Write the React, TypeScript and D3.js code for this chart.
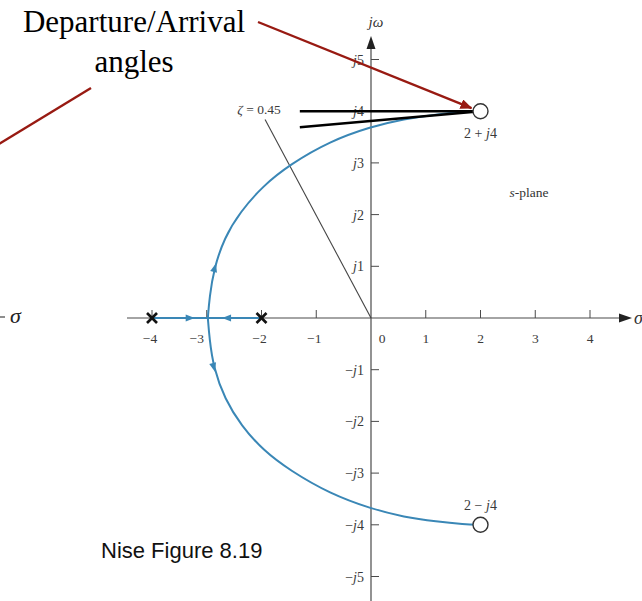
import React from "react";
import * as d3 from "d3";

// Axis ticks (real axis in σ, imaginary axis in jω)
const X_TICKS = [-4, -3, -2, -1, 0, 1, 2, 3, 4];
const Y_TICKS = [5, 4, 3, 2, 1, -1, -2, -3, -4, -5];

// Open-loop poles and zeros
const POLES: [number, number][] = [[-4, 0], [-2, 0]];
const ZEROS = [
  { re: 2, im: 4, sign: "+", labelSide: "below" },
  { re: 2, im: -4, sign: "−", labelSide: "above" },
];

// Root-locus branches (σ, ω)
const UPPER_BRANCH: [number, number][] = [
  [-2.98, 0], [-2.95, 0.4], [-2.87, 0.95], [-2.68, 1.55], [-2.39, 2.05],
  [-1.98, 2.55], [-1.48, 2.97], [-0.75, 3.42], [0, 3.7], [0.6, 3.85],
  [1.2, 3.94], [1.7, 3.99], [2, 4],
];
const LOWER_BRANCH: [number, number][] = [
  [-2.98, 0], [-2.95, -0.4], [-2.88, -0.95], [-2.67, -1.57], [-2.37, -2.08],
  [-1.97, -2.56], [-1.48, -2.95], [-0.75, -3.4], [0, -3.69], [0.6, -3.85],
  [1.2, -3.94], [1.7, -3.99], [2, -4],
];
const REAL_SEGMENT: [number, number][] = [[-4, 0], [-2, 0]];

// Direction arrows along the locus: [from, to]
const LOCUS_ARROWS: [[number, number], [number, number]][] = [
  [[-2.9, 0.8], [-2.83, 1.06]],
  [[-2.91, -0.8], [-2.85, -1.04]],
  [[-3.45, 0], [-3.22, 0]],
  [[-2.5, 0], [-2.72, 0]],
];

// Damping-ratio line and departure/arrival tangents
const ZETA = 0.45;
const ZETA_RADIUS = 4.3;
const TANGENTS: [[number, number], [number, number]][] = [
  [[-1.3, 4], [2, 4]],
  [[-1.3, 3.69], [2, 4]],
];

const W = 642;
const H = 601;

const x = d3.scaleLinear().domain([-4, 4]).range([152, 590]);
const y = d3.scaleLinear().domain([-5, 5]).range([576.5, 59.5]);

const BLUE = "#3a87b6";
const AXIS = "#4a4a4a";
const LABEL = "#3a3a3a";
const RED = "#981a12";
const SERIF = "'Liberation Serif', 'Times New Roman', serif";
const SANS = "'Liberation Sans', Arial, sans-serif";

const locusLine = d3
  .line<[number, number]>()
  .x((d) => x(d[0]))
  .y((d) => y(d[1]))
  .curve(d3.curveBasis);

function minusLabel(v: number) {
  return v < 0 ? `−${-v}` : `${v}`;
}

export default function App() {
  const x0 = x(0);
  const y0 = y(0);

  const zetaEnd: [number, number] = [
    -ZETA * ZETA_RADIUS,
    Math.sqrt(1 - ZETA * ZETA) * ZETA_RADIUS,
  ];

  const redTip: [number, number] = [x(2) - 9, y(4) - 3];

  return (
    <svg
      width={W}
      height={H}
      viewBox={`0 0 ${W} ${H}`}
      style={{ position: "absolute", left: 0, top: 0, background: "#fff" }}
    >
      <defs>
        <marker
          id="redHead"
          viewBox="0 0 12 10"
          refX="11"
          refY="5"
          markerWidth="12"
          markerHeight="10"
          markerUnits="userSpaceOnUse"
          orient="auto"
        >
          <path d="M0,0 L12,5 L0,10 Z" fill={RED} />
        </marker>
      </defs>

      {/* Real axis */}
      <line x1={127} x2={622} y1={y0} y2={y0} stroke={AXIS} strokeWidth={1.2} />
      <path d={`M632,${y0} L619,${y0 - 4.5} L619,${y0 + 4.5} Z`} fill="#222" />
      <text x={634} y={y0 + 6} fontFamily={SERIF} fontStyle="italic" fontSize={18} fill="#333">
        σ
      </text>

      {/* Imaginary axis */}
      <line x1={x0} x2={x0} y1={H} y2={47} stroke={AXIS} strokeWidth={1.2} />
      <path d={`M${x0},36 L${x0 - 4.5},49 L${x0 + 4.5},49 Z`} fill="#222" />
      <text x={x0 + 5} y={27} textAnchor="middle" fontFamily={SERIF} fontStyle="italic" fontSize={15} fill="#333">
        jω
      </text>

      {/* Real-axis ticks */}
      {X_TICKS.filter((d) => d !== 0).map((d) => (
        <line key={`xt${d}`} x1={x(d)} x2={x(d)} y1={y0 - 8} y2={y0} stroke={AXIS} strokeWidth={1} />
      ))}
      {X_TICKS.map((d) => {
        const dx = d === 0 ? 11 : d === -3 ? -10 : d < 0 ? -2 : 0;
        return (
          <text
            key={`xl${d}`}
            x={x(d) + dx}
            y={y0 + 25}
            textAnchor="middle"
            fontFamily={SERIF}
            fontSize={13.5}
            fill={LABEL}
          >
            {minusLabel(d)}
          </text>
        );
      })}

      {/* Imaginary-axis ticks */}
      {Y_TICKS.map((d) => (
        <g key={`yt${d}`}>
          <line x1={x0} x2={x0 + 8} y1={y(d)} y2={y(d)} stroke={AXIS} strokeWidth={1} />
          <text
            x={x0 - 7}
            y={y(d) + 5}
            textAnchor="end"
            fontFamily={SERIF}
            fontSize={14}
            fill={LABEL}
          >
            {d < 0 ? "−" : ""}
            <tspan fontStyle="italic">j</tspan>
            {Math.abs(d)}
          </text>
        </g>
      ))}

      {/* ζ = 0.45 line */}
      <line
        x1={x(0)}
        y1={y(0)}
        x2={x(zetaEnd[0])}
        y2={y(zetaEnd[1])}
        stroke="#444"
        strokeWidth={1.1}
      />
      <text x={x(zetaEnd[0]) - 6} y={y(zetaEnd[1]) - 5} textAnchor="middle" fontFamily={SERIF} fontSize={13.5} fill={LABEL}>
        <tspan fontStyle="italic">ζ</tspan> = 0.45
      </text>

      {/* Root locus */}
      <path d={locusLine(REAL_SEGMENT) ?? ""} fill="none" stroke={BLUE} strokeWidth={2} />
      <path d={locusLine(UPPER_BRANCH) ?? ""} fill="none" stroke={BLUE} strokeWidth={2} />
      <path d={locusLine(LOWER_BRANCH) ?? ""} fill="none" stroke={BLUE} strokeWidth={2} />
      {LOCUS_ARROWS.map(([from, to], i) => {
        const ang =
          (Math.atan2(y(to[1]) - y(from[1]), x(to[0]) - x(from[0])) * 180) / Math.PI;
        return (
          <path
            key={`ar${i}`}
            d="M0,0 L-9,-3.5 L-9,3.5 Z"
            fill={BLUE}
            transform={`translate(${x(to[0])},${y(to[1])}) rotate(${ang})`}
          />
        );
      })}

      {/* Departure/arrival tangent lines */}
      {TANGENTS.map(([from, to], i) => (
        <line
          key={`tg${i}`}
          x1={x(from[0])}
          y1={y(from[1])}
          x2={x(to[0])}
          y2={y(to[1])}
          stroke="#000"
          strokeWidth={2.6}
        />
      ))}

      {/* Poles */}
      {POLES.map(([re, im], i) => (
        <g key={`p${i}`} stroke="#111" strokeWidth={2.6}>
          <line x1={x(re) - 5} y1={y(im) - 5} x2={x(re) + 5} y2={y(im) + 5} />
          <line x1={x(re) - 5} y1={y(im) + 5} x2={x(re) + 5} y2={y(im) - 5} />
        </g>
      ))}

      {/* Zeros */}
      {ZEROS.map((z, i) => (
        <g key={`z${i}`}>
          <circle cx={x(z.re)} cy={y(z.im)} r={7.5} fill="#fff" stroke="#333" strokeWidth={1.4} />
          <text
            x={x(z.re)}
            y={z.labelSide === "below" ? y(z.im) + 27 : y(z.im) - 15}
            textAnchor="middle"
            fontFamily={SERIF}
            fontSize={14}
            fill={LABEL}
          >
            {`${z.re} ${z.sign} `}
            <tspan fontStyle="italic">j</tspan>
            {Math.abs(z.im)}
          </text>
        </g>
      ))}

      <text x={529} y={197} textAnchor="middle" fontFamily={SERIF} fontSize={13.5} fill="#333">
        <tspan fontStyle="italic">s</tspan>-plane
      </text>

      {/* Callout */}
      <text x={134} y={32} textAnchor="middle" fontFamily={SERIF} fontSize={31} fill="#000">
        Departure/Arrival
      </text>
      <text x={134} y={72} textAnchor="middle" fontFamily={SERIF} fontSize={31} fill="#000">
        angles
      </text>
      <line
        x1={258}
        y1={22}
        x2={redTip[0]}
        y2={redTip[1]}
        stroke={RED}
        strokeWidth={2.4}
        markerEnd="url(#redHead)"
      />
      <line x1={91} y1={88} x2={-6} y2={147} stroke={RED} strokeWidth={2.4} />

      {/* Partial axis label at the left edge */}
      <line x1={0} x2={5} y1={317} y2={317} stroke="#444" strokeWidth={1.2} />
      <text x={10} y={323} fontFamily={SERIF} fontStyle="italic" fontSize={22} fill="#222">
        σ
      </text>

      <text x={101} y={558} fontFamily={SANS} fontSize={22} fill="#111">
        Nise Figure 8.19
      </text>
    </svg>
  );
}
